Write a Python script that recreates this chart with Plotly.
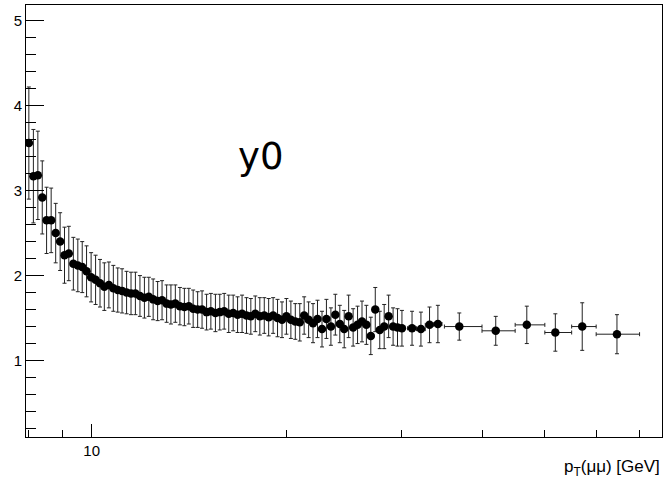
import plotly.graph_objects as go

# pT(mumu) bin positions [GeV]
pt = [8.00, 8.13, 8.26, 8.39, 8.52, 8.66, 8.80, 8.94, 9.08, 9.22,
      9.37, 9.52, 9.67, 9.82, 9.98, 10.14, 10.30, 10.46, 10.63, 10.80,
      10.97, 11.14, 11.32, 11.50, 11.68, 11.87, 12.06, 12.25, 12.44, 12.64,
      12.84, 13.05, 13.25, 13.46, 13.68, 13.90, 14.12, 14.34, 14.57, 14.80,
      15.04, 15.27, 15.52, 15.76, 16.01, 16.27, 16.53, 16.79, 17.06, 17.33,
      17.60, 17.88, 18.17, 18.46, 18.75, 19.05, 19.35, 19.66, 19.97, 20.29,
      20.61, 20.94, 21.27, 21.61, 21.95, 22.30, 22.66, 23.02, 23.39, 23.76,
      24.14, 24.52, 24.91, 25.31, 25.71, 26.12, 26.53, 26.95, 27.38, 27.82,
      28.26, 28.71, 29.17, 29.63, 30.10,
      31.2, 32.2, 33.2, 34.2,
      36.9, 42.0, 46.9, 51.9, 57.1, 64.6]

y0 = [3.56, 3.17, 3.18, 2.92, 2.65, 2.65, 2.50, 2.40, 2.24, 2.26,
      2.14, 2.12, 2.10, 2.05, 1.98, 1.95, 1.91, 1.87, 1.89, 1.85,
      1.83, 1.82, 1.80, 1.79, 1.79, 1.76, 1.74, 1.75, 1.72, 1.70,
      1.71, 1.67, 1.66, 1.67, 1.64, 1.63, 1.64, 1.61, 1.60, 1.60,
      1.57, 1.58, 1.56, 1.57, 1.58, 1.55, 1.56, 1.54, 1.55, 1.53,
      1.52, 1.55, 1.52, 1.53, 1.51, 1.53, 1.50, 1.48, 1.52, 1.48,
      1.46, 1.45, 1.53, 1.48, 1.44, 1.49, 1.37, 1.49, 1.40, 1.54,
      1.43, 1.37, 1.52, 1.39, 1.42, 1.46, 1.42, 1.29, 1.60, 1.36,
      1.40, 1.52, 1.40, 1.39, 1.38,
      1.38, 1.37, 1.42, 1.43,
      1.40, 1.35, 1.42, 1.33, 1.40, 1.31]

y0_err = [0.66, 0.55, 0.52, 0.43, 0.39, 0.38, 0.35, 0.34, 0.33, 0.32,
          0.31, 0.31, 0.30, 0.30, 0.29, 0.29, 0.28, 0.28, 0.27, 0.27,
          0.26, 0.26, 0.25, 0.25, 0.25, 0.24, 0.24, 0.23, 0.24, 0.23,
          0.23, 0.22, 0.23, 0.22, 0.22, 0.22, 0.21, 0.22, 0.21, 0.22,
          0.21, 0.21, 0.22, 0.21, 0.21, 0.22, 0.21, 0.21, 0.22, 0.21,
          0.21, 0.21, 0.22, 0.21, 0.22, 0.21, 0.22, 0.21, 0.21, 0.22,
          0.21, 0.22, 0.22, 0.21, 0.23, 0.22, 0.21, 0.23, 0.22, 0.24,
          0.22, 0.22, 0.25, 0.22, 0.22, 0.24, 0.23, 0.22, 0.26, 0.22,
          0.26, 0.25, 0.22, 0.22, 0.21,
          0.20, 0.20, 0.21, 0.22,
          0.16, 0.17, 0.22, 0.22, 0.28, 0.23]

pt_err_lo = [0.0] * 85 + [0.5, 0.5, 0.5, 0.5, 1.9, 2.0, 1.9, 1.9, 2.1, 4.6]
pt_err_hi = [0.0] * 85 + [0.5, 0.5, 0.5, 0.5, 3.1, 3.0, 3.1, 3.1, 2.9, 5.4]

x_major = [10]
x_minor = [8, 9, 20, 30, 40, 50, 60, 70]

fig = go.Figure()
fig.add_trace(go.Scatter(
    x=pt, y=y0, mode="markers",
    marker=dict(symbol="circle", size=8.5, color="black"),
    error_y=dict(type="data", array=y0_err, symmetric=True,
                 color="#222222", thickness=1, width=2),
    error_x=dict(type="data", array=pt_err_hi, arrayminus=pt_err_lo,
                 symmetric=False, color="#222222", thickness=1, width=2),
    showlegend=False,
))

fig.add_annotation(text="y0", x=0.368, y=0.65, xref="paper", yref="paper",
                   showarrow=False, xanchor="center", yanchor="middle",
                   font=dict(family="DejaVu Sans", size=37, color="black"))
fig.add_annotation(text="p<sub>T</sub>(μμ) [GeV]", x=1.0, y=-0.072,
                   xref="paper", yref="paper", showarrow=False,
                   xanchor="right", yanchor="middle",
                   font=dict(family="Liberation Sans", size=17, color="black"))

fig.update_layout(
    width=666, height=485,
    margin=dict(l=26, r=4, t=5, b=48),
    paper_bgcolor="white", plot_bgcolor="white",
    font=dict(family="Liberation Sans", size=15, color="black"),
    xaxis=dict(type="log", range=[0.8987, 1.8797],
               showgrid=False, zeroline=False,
               showline=True, mirror=True, linecolor="black", linewidth=1,
               ticks="inside", ticklen=13, tickwidth=1, tickcolor="black",
               tickmode="array", tickvals=x_major, ticktext=["10"],
               tickfont=dict(size=15),
               minor=dict(tickmode="array", tickvals=x_minor, ticks="inside",
                          ticklen=7, tickwidth=1, tickcolor="black", showgrid=False)),
    yaxis=dict(range=[0.1, 5.185],
               showgrid=False, zeroline=False,
               showline=True, mirror=True, linecolor="black", linewidth=1,
               ticks="inside", ticklen=18, tickwidth=1, tickcolor="black",
               tick0=0, dtick=1, tickfont=dict(size=15),
               minor=dict(tick0=0, dtick=0.2, ticks="inside", ticklen=10,
                          tickwidth=1, tickcolor="black", showgrid=False)),
)

fig.write_html("out.html")
